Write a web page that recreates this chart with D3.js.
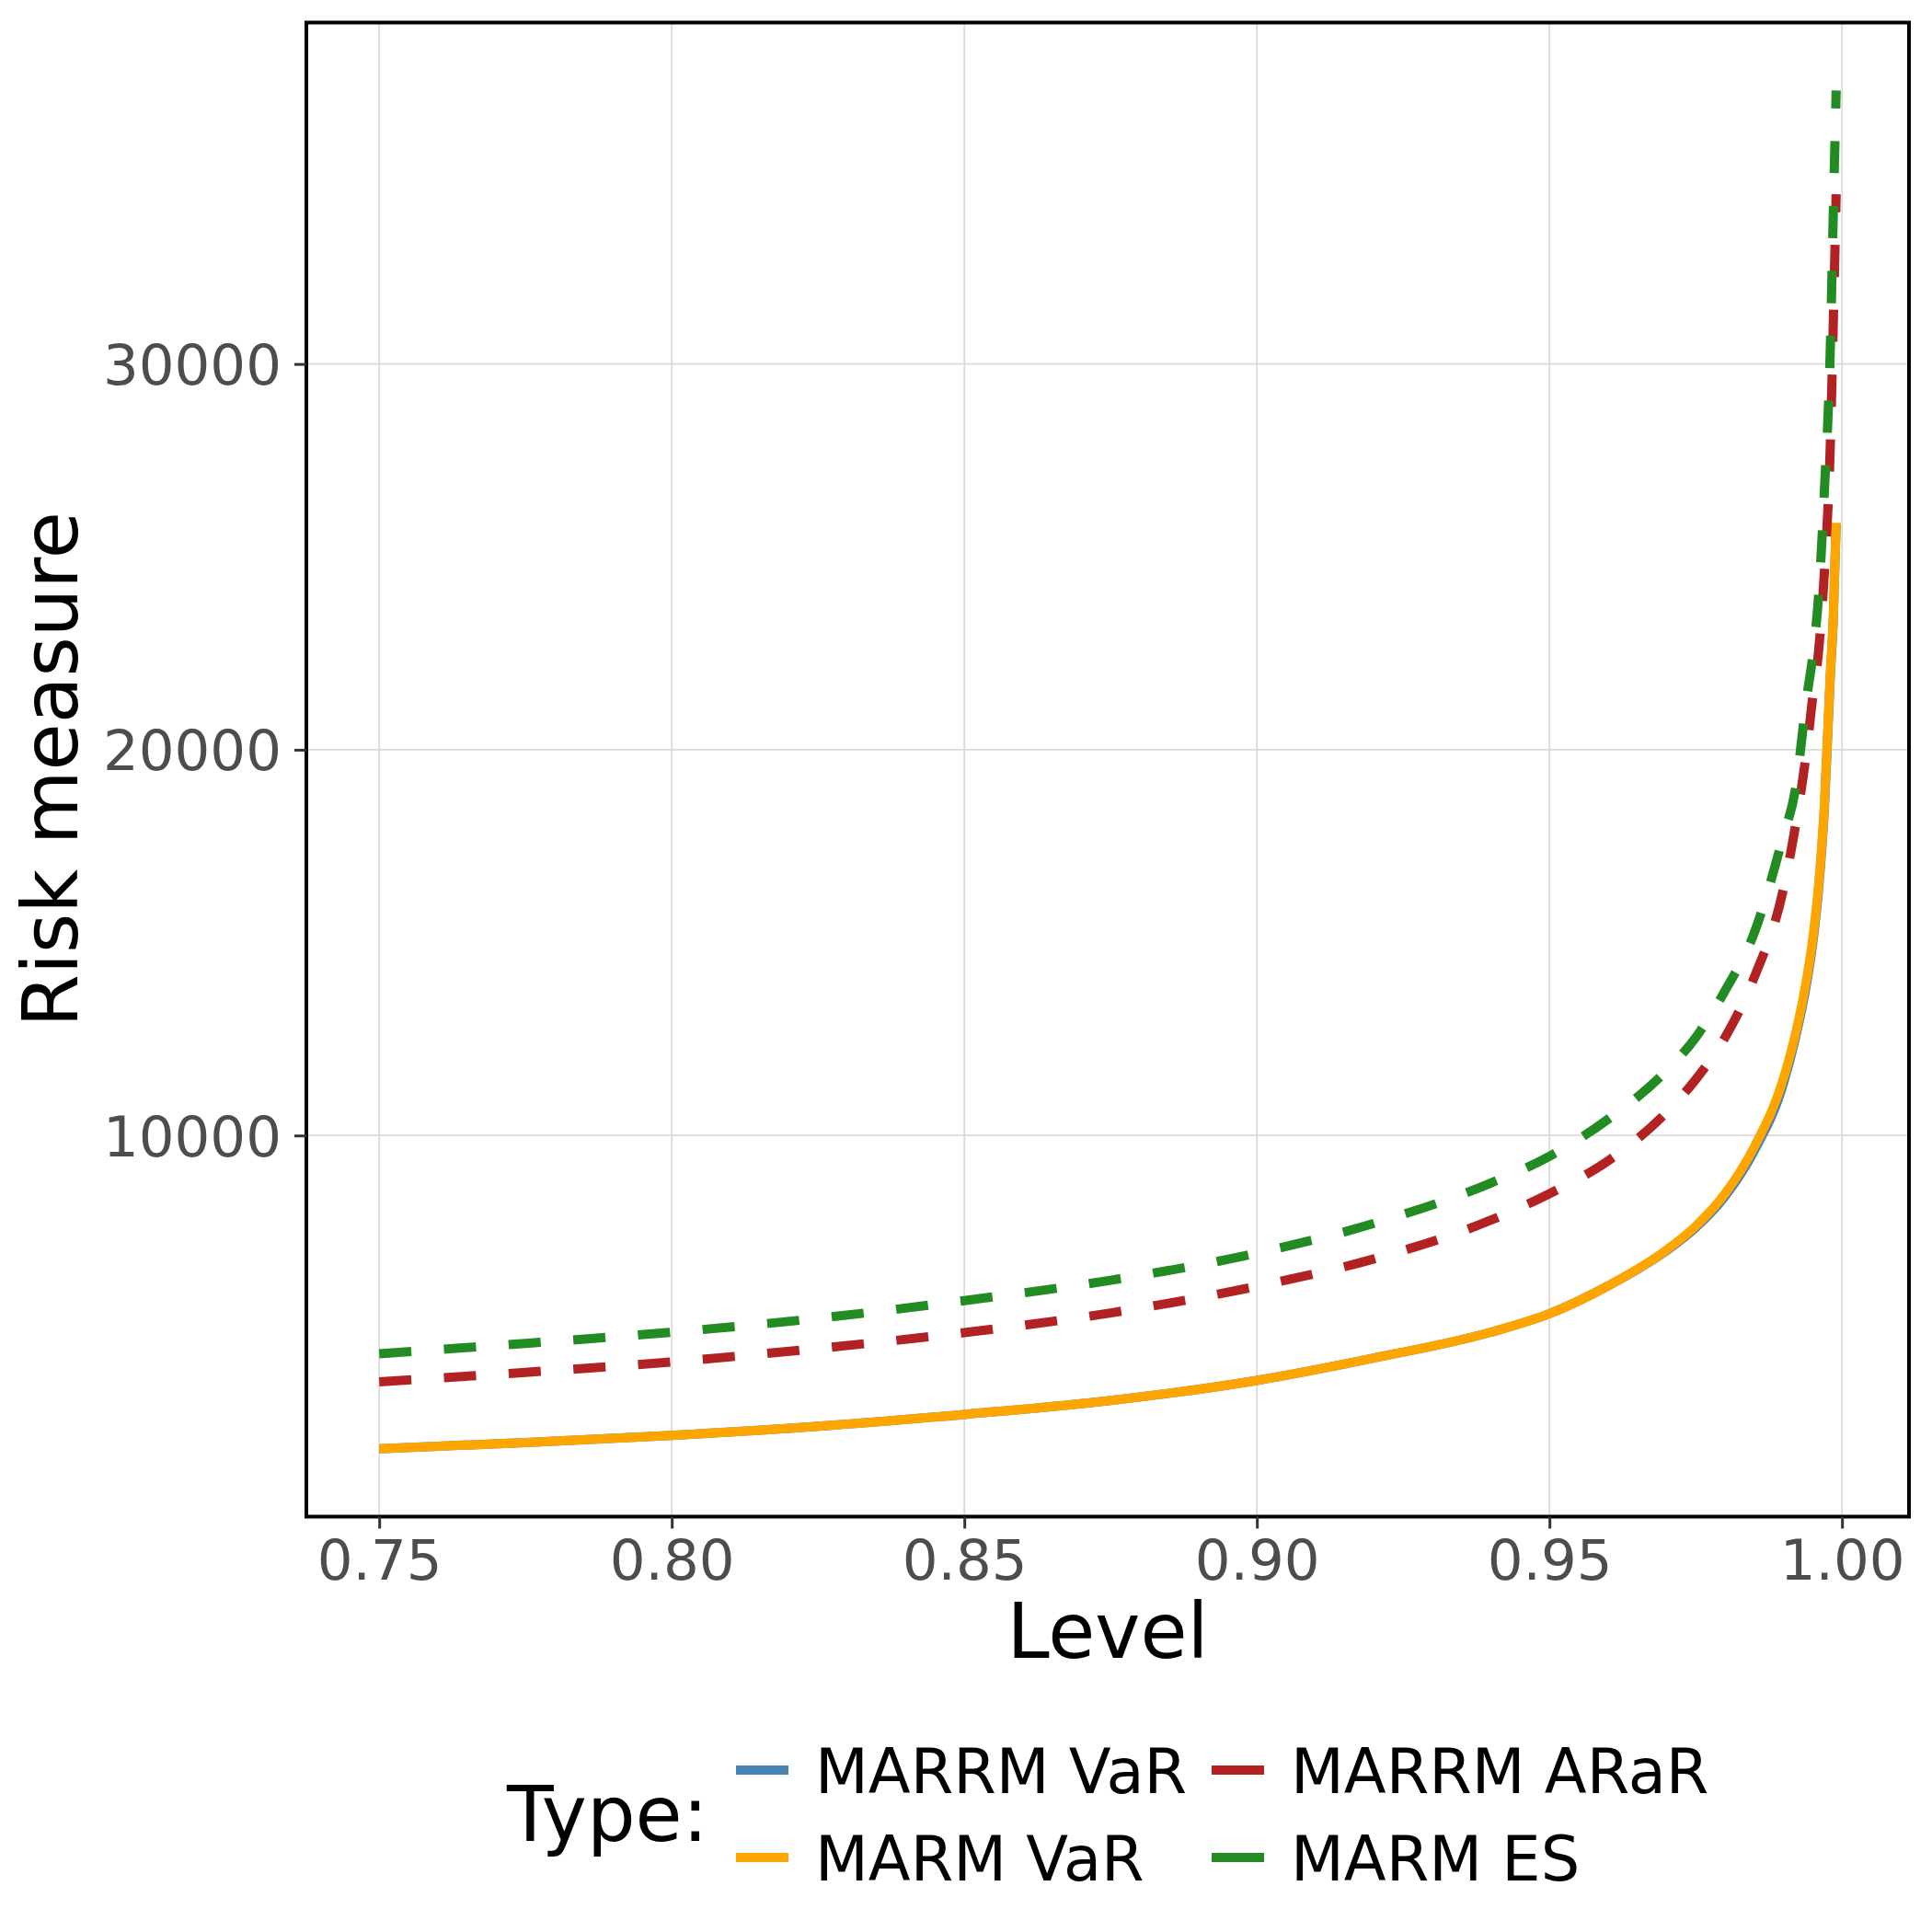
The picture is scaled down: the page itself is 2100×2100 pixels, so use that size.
<!DOCTYPE html>
<html>
<head>
<meta charset="utf-8">
<script src="https://cdn.jsdelivr.net/npm/d3@7"></script>
<style>
  body { margin: 0; background: #fff; }
  text { font-family: "DejaVu Sans", sans-serif; }
</style>
</head>
<body>
<svg id="chart" width="2100" height="2100"></svg>
<script>
// values
var levels = [0.75, 0.775, 0.80, 0.825, 0.85, 0.875, 0.90, 0.92, 0.94, 0.95, 0.96, 0.97,
              0.975, 0.98, 0.985, 0.99, 0.992, 0.994, 0.995, 0.996, 0.997, 0.998, 0.9985, 0.999];

var marrmVar  = [1880, 2040, 2226, 2461, 2769, 3130, 3650, 4230, 4900, 5380, 6100, 7010,
                 7610, 8420, 9600, 11350, 12500, 13980, 14980, 16380, 18500, 21900, 23350, 25850];
var marmVar   = [1880, 2040, 2226, 2461, 2769, 3130, 3650, 4230, 4900, 5380, 6100, 7030,
                 7650, 8490, 9700, 11480, 12600, 14100, 15100, 16500, 18600, 22000, 23400, 25880];
var marrmArar = [3613, 3860, 4130, 4480, 4890, 5400, 6090, 6800, 7805, 8490, 9340, 10600,
                 11450, 12540, 14100, 16400, 17990, 20040, 21370, 22560, 24630, 27900, 31000, 34400];
var marmEs    = [4343, 4610, 4900, 5260, 5720, 6247, 6950, 7720, 8770, 9460, 10420, 11680,
                 12540, 13750, 15250, 17780, 18940, 21390, 22430, 24000, 26750, 30400, 33850, 37090];

var seriesNames = ["MARRM VaR", "MARM VaR", "MARRM ARaR", "MARM ES"];
var seriesValues = [marrmVar, marmVar, marrmArar, marmEs];
var seriesColors = ["#4682B4", "#FFA500", "#B22222", "#228B22"];
var seriesDashed = [false, false, true, true];

var xTicks = [0.75, 0.80, 0.85, 0.90, 0.95, 1.00];
var yTicks = [10000, 20000, 30000];

var svg = d3.select("#chart");
svg.append("rect").attr("width", 2100).attr("height", 2100).attr("fill", "#fff");

var panel = { left: 333, right: 2075, top: 24.5, bottom: 1648.5 };

// ggplot style 5% expansion
function expand(ext) {
  var pad = (ext[1] - ext[0]) * 0.05;
  return [ext[0] - pad, ext[1] + pad];
}
var allY = d3.merge(seriesValues);
var x = d3.scaleLinear().domain(expand(d3.extent(levels))).range([panel.left, panel.right]);
var y = d3.scaleLinear().domain(expand(d3.extent(allY))).range([panel.bottom, panel.top]);

// grid
var grid = svg.append("g");
grid.selectAll(".gx").data(xTicks).enter().append("line")
  .attr("x1", function(d) { return x(d); }).attr("x2", function(d) { return x(d); })
  .attr("y1", panel.top).attr("y2", panel.bottom)
  .attr("stroke", "#DADADA").attr("stroke-width", 1.8);
grid.selectAll(".gy").data(yTicks).enter().append("line")
  .attr("y1", function(d) { return y(d); }).attr("y2", function(d) { return y(d); })
  .attr("x1", panel.left).attr("x2", panel.right)
  .attr("stroke", "#DADADA").attr("stroke-width", 1.8);

// lines
var line = d3.line()
  .x(function(d) { return x(d[0]); })
  .y(function(d) { return y(d[1]); })
  .curve(d3.curveMonotoneX);

var plot = svg.append("g");
seriesValues.forEach(function(vals, i) {
  plot.append("path")
    .attr("d", line(d3.zip(levels, vals)))
    .attr("fill", "none")
    .attr("stroke", seriesColors[i])
    .attr("stroke-width", 10)
    .attr("stroke-linecap", "butt")
    .attr("stroke-linejoin", "round")
    .attr("stroke-dasharray", seriesDashed[i] ? "35,35.5" : null);
});

// panel border
svg.append("rect")
  .attr("x", panel.left).attr("y", panel.top)
  .attr("width", panel.right - panel.left).attr("height", panel.bottom - panel.top)
  .attr("fill", "none").attr("stroke", "#000").attr("stroke-width", 4);

// axes
var xAxis = d3.axisBottom(x).tickValues(xTicks).tickFormat(d3.format(".2f"))
  .tickSize(13).tickPadding(10);
var yAxis = d3.axisLeft(y).tickValues(yTicks).tickFormat(d3.format("d"))
  .tickSize(13).tickPadding(14);

var gx = svg.append("g").attr("transform", "translate(0," + panel.bottom + ")").call(xAxis);
var gy = svg.append("g").attr("transform", "translate(" + panel.left + ",0)").call(yAxis);
[gx, gy].forEach(function(g) {
  g.select(".domain").remove();
  g.selectAll(".tick line").attr("stroke", "#333333").attr("stroke-width", 3);
  g.selectAll(".tick text").attr("fill", "#4D4D4D").style("font-size", "61px")
    .style("font-family", "'DejaVu Sans', sans-serif");
});
gx.selectAll(".tick text").attr("dy", null).attr("y", 68.5);
gy.selectAll(".tick text").attr("dy", null).attr("dominant-baseline", null).attr("y", 22);

// titles
svg.append("text").attr("x", (panel.left + panel.right) / 2).attr("y", 1802)
  .attr("text-anchor", "middle").style("font-size", "83px").text("Level");
svg.append("text")
  .attr("transform", "translate(84," + (panel.top + panel.bottom) / 2 + ") rotate(-90)")
  .attr("text-anchor", "middle").style("font-size", "83px").text("Risk measure");

// legend, two rows filled column by column
var legend = svg.append("g");
legend.append("text").attr("x", 551).attr("y", 2001).style("font-size", "83px").text("Type:");
var colX = [800, 1317];
var rowY = [1924, 2019];
seriesNames.forEach(function(name, i) {
  var cx = colX[Math.floor(i / 2)], cy = rowY[i % 2];
  legend.append("line")
    .attr("x1", cx).attr("x2", cx + 57).attr("y1", cy).attr("y2", cy)
    .attr("stroke", seriesColors[i]).attr("stroke-width", 10);
  legend.append("text").attr("x", cx + 86).attr("y", cy + 24.5)
    .style("font-size", "67px").text(name);
});
</script>
</body>
</html>
